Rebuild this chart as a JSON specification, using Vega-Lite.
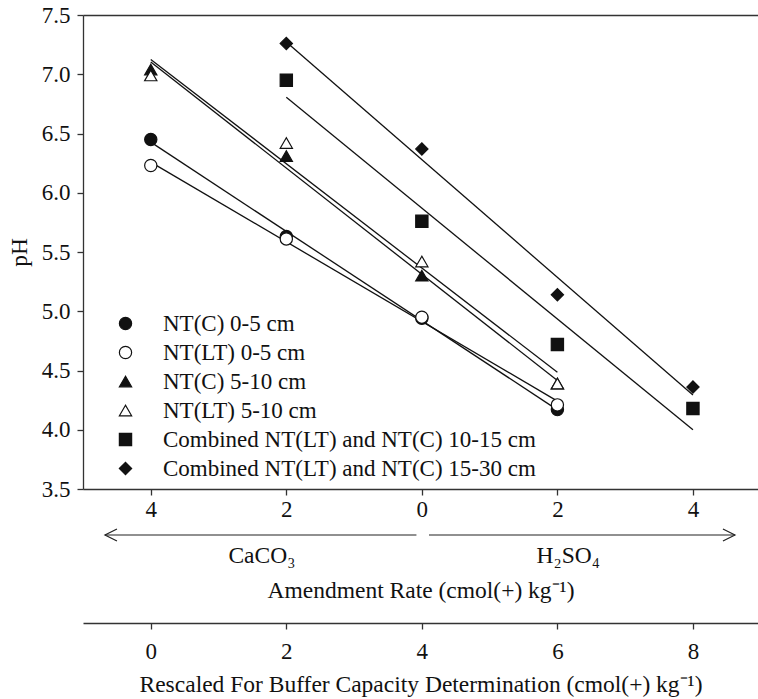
{
  "$schema": "https://vega.github.io/schema/vega-lite/v6.json",
  "width": 675,
  "height": 474,
  "autosize": {"type": "none"},
  "padding": {"left": 83, "top": 15, "right": 0, "bottom": 210},
  "background": "white",
  "config": {
    "view": {"stroke": null},
    "font": "Liberation Serif",
    "axis": {
      "grid": false,
      "domainColor": "#333",
      "tickColor": "#333",
      "domainWidth": 1.3,
      "tickWidth": 1.3,
      "tickSize": 6,
      "labelColor": "#111",
      "titleColor": "#111",
      "labelFont": "Liberation Serif",
      "titleFont": "Liberation Serif",
      "labelFontSize": 23,
      "titleFontSize": 23.5,
      "titleFontWeight": "normal"
    },
    "legend": {
      "padding": 0,
      "labelFont": "Liberation Serif",
      "labelFontSize": 23,
      "labelColor": "#111",
      "labelLimit": 600,
      "symbolSize": 150,
      "symbolStrokeWidth": 1.2,
      "labelOffset": 26,
      "rowPadding": 5
    }
  },
  "datasets": {
    "ph": [
      {"series": "NT(C) 0-5 cm", "x": 0, "pH": 6.45},
      {"series": "NT(C) 0-5 cm", "x": 2, "pH": 5.63},
      {"series": "NT(C) 0-5 cm", "x": 4, "pH": 4.94},
      {"series": "NT(C) 0-5 cm", "x": 6, "pH": 4.17},
      {"series": "NT(LT) 0-5 cm", "x": 0, "pH": 6.23},
      {"series": "NT(LT) 0-5 cm", "x": 2, "pH": 5.61},
      {"series": "NT(LT) 0-5 cm", "x": 4, "pH": 4.95},
      {"series": "NT(LT) 0-5 cm", "x": 6, "pH": 4.21},
      {"series": "NT(C) 5-10 cm", "x": 0, "pH": 7.04},
      {"series": "NT(C) 5-10 cm", "x": 2, "pH": 6.31},
      {"series": "NT(C) 5-10 cm", "x": 4, "pH": 5.3},
      {"series": "NT(C) 5-10 cm", "x": 6, "pH": 4.39},
      {"series": "NT(LT) 5-10 cm", "x": 0, "pH": 6.99},
      {"series": "NT(LT) 5-10 cm", "x": 2, "pH": 6.42},
      {"series": "NT(LT) 5-10 cm", "x": 4, "pH": 5.42},
      {"series": "NT(LT) 5-10 cm", "x": 6, "pH": 4.39},
      {"series": "Combined NT(LT) and NT(C) 10-15 cm", "x": 2, "pH": 6.95},
      {"series": "Combined NT(LT) and NT(C) 10-15 cm", "x": 4, "pH": 5.76},
      {"series": "Combined NT(LT) and NT(C) 10-15 cm", "x": 6, "pH": 4.72},
      {"series": "Combined NT(LT) and NT(C) 10-15 cm", "x": 8, "pH": 4.18},
      {"series": "Combined NT(LT) and NT(C) 15-30 cm", "x": 2, "pH": 7.26},
      {"series": "Combined NT(LT) and NT(C) 15-30 cm", "x": 4, "pH": 6.37},
      {"series": "Combined NT(LT) and NT(C) 15-30 cm", "x": 6, "pH": 5.14},
      {"series": "Combined NT(LT) and NT(C) 15-30 cm", "x": 8, "pH": 4.36}
    ],
    "arrows": [
      {"from": 3.92, "to": -0.676, "y": 3.112, "dir": "left"},
      {"from": 4.105, "to": 8.62, "y": 3.112, "dir": "right"}
    ],
    "labels": [
      {"x": 1.64, "y": 2.935, "label": "CaCO₃"},
      {"x": 6.16, "y": 2.935, "label": "H₂SO₄"}
    ]
  },
  "layer": [
    {
      "data": {"name": "ph"},
      "transform": [
        {"regression": "pH", "on": "x", "groupby": ["series"]}
      ],
      "mark": {"type": "line", "color": "#111", "strokeWidth": 1.3},
      "encoding": {
        "x": {
          "field": "x", "type": "quantitative",
          "scale": {"domain": [-1, 8.96], "nice": false, "zero": false},
          "axis": {
            "orient": "bottom",
            "values": [0, 2, 4, 6, 8],
            "labelExpr": "abs(datum.value - 4)",
            "labelPadding": 3,
            "title": "Amendment Rate (cmol(+) kg⁻¹)",
            "titlePadding": 57
          }
        },
        "y": {
          "field": "pH", "type": "quantitative",
          "scale": {"domain": [3.5, 7.5], "nice": false, "zero": false},
          "axis": {
            "orient": "left",
            "values": [3.5, 4, 4.5, 5, 5.5, 6, 6.5, 7, 7.5],
            "format": ".1f",
            "labelPadding": 7,
            "title": "pH",
            "titlePadding": 10
          }
        },
        "detail": {"field": "series", "type": "nominal"}
      }
    },
    {
      "data": {"name": "ph"},
      "mark": {"type": "point", "filled": false, "strokeWidth": 1.2, "opacity": 1, "fillOpacity": 1, "size": 150},
      "encoding": {
        "x": {
          "field": "x", "type": "quantitative",
          "scale": {"domain": [-1, 8.96], "nice": false, "zero": false},
          "axis": {
            "orient": "bottom",
            "offset": 134,
            "values": [0, 2, 4, 6, 8],
            "labelPadding": 11,
            "title": "Rescaled For Buffer Capacity Determination (cmol(+) kg⁻¹)",
            "titlePadding": 9
          }
        },
        "y": {
          "field": "pH", "type": "quantitative",
          "scale": {"domain": [3.5, 7.5], "nice": false, "zero": false},
          "axis": null
        },
        "shape": {
          "field": "series", "type": "nominal",
          "scale": {
            "domain": ["NT(C) 0-5 cm", "NT(LT) 0-5 cm", "NT(C) 5-10 cm", "NT(LT) 5-10 cm", "Combined NT(LT) and NT(C) 10-15 cm", "Combined NT(LT) and NT(C) 15-30 cm"],
            "range": ["circle", "circle", "triangle-up", "triangle-up", "square", "diamond"]
          },
          "legend": {"title": null, "orient": "none", "legendX": 31, "legendY": 297}
        },
        "fill": {
          "field": "series", "type": "nominal",
          "scale": {
            "domain": ["NT(C) 0-5 cm", "NT(LT) 0-5 cm", "NT(C) 5-10 cm", "NT(LT) 5-10 cm", "Combined NT(LT) and NT(C) 10-15 cm", "Combined NT(LT) and NT(C) 15-30 cm"],
            "range": ["#111", "white", "#111", "white", "#111", "#111"]
          },
          "legend": {"title": null, "orient": "none", "legendX": 31, "legendY": 297}
        },
        "stroke": {
          "field": "series", "type": "nominal",
          "scale": {
            "domain": ["NT(C) 0-5 cm", "NT(LT) 0-5 cm", "NT(C) 5-10 cm", "NT(LT) 5-10 cm", "Combined NT(LT) and NT(C) 10-15 cm", "Combined NT(LT) and NT(C) 15-30 cm"],
            "range": ["#111", "#111", "#111", "#111", "#111", "#111"]
          },
          "legend": {"title": null, "orient": "none", "legendX": 31, "legendY": 297}
        }
      }
    },
    {
      "data": {"name": "arrows"},
      "mark": {"type": "rule", "color": "#222", "strokeWidth": 1.2},
      "encoding": {
        "x": {"field": "from", "type": "quantitative", "scale": {"domain": [-1, 8.96], "nice": false, "zero": false}, "axis": null},
        "x2": {"field": "to"},
        "y": {"field": "y", "type": "quantitative", "scale": {"domain": [3.5, 7.5], "nice": false, "zero": false}, "axis": null}
      }
    },
    {
      "data": {"name": "arrows"},
      "transform": [{"filter": "datum.dir === 'left'"}],
      "mark": {"type": "point", "shape": "M1,-0.5L0,0L1,0.5", "filled": false, "color": "#222", "strokeWidth": 1.2, "opacity": 1, "size": 576},
      "encoding": {
        "x": {"field": "to", "type": "quantitative", "scale": {"domain": [-1, 8.96], "nice": false, "zero": false}, "axis": null},
        "y": {"field": "y", "type": "quantitative", "scale": {"domain": [3.5, 7.5], "nice": false, "zero": false}, "axis": null}
      }
    },
    {
      "data": {"name": "arrows"},
      "transform": [{"filter": "datum.dir === 'right'"}],
      "mark": {"type": "point", "shape": "M-1,-0.5L0,0L-1,0.5", "filled": false, "color": "#222", "strokeWidth": 1.2, "opacity": 1, "size": 576},
      "encoding": {
        "x": {"field": "to", "type": "quantitative", "scale": {"domain": [-1, 8.96], "nice": false, "zero": false}, "axis": null},
        "y": {"field": "y", "type": "quantitative", "scale": {"domain": [3.5, 7.5], "nice": false, "zero": false}, "axis": null}
      }
    },
    {
      "data": {"name": "labels"},
      "mark": {"type": "text", "font": "Liberation Serif", "fontSize": 23.5, "color": "#111", "baseline": "middle", "align": "center"},
      "encoding": {
        "x": {
          "field": "x", "type": "quantitative",
          "scale": {"domain": [-1, 8.96], "nice": false, "zero": false},
          "axis": {"orient": "top", "labels": false, "ticks": false, "title": null, "domain": true}
        },
        "y": {"field": "y", "type": "quantitative", "scale": {"domain": [3.5, 7.5], "nice": false, "zero": false}, "axis": null},
        "text": {"field": "label"}
      }
    }
  ],
  "resolve": {
    "axis": {"x": "independent", "y": "independent"}
  }
}
